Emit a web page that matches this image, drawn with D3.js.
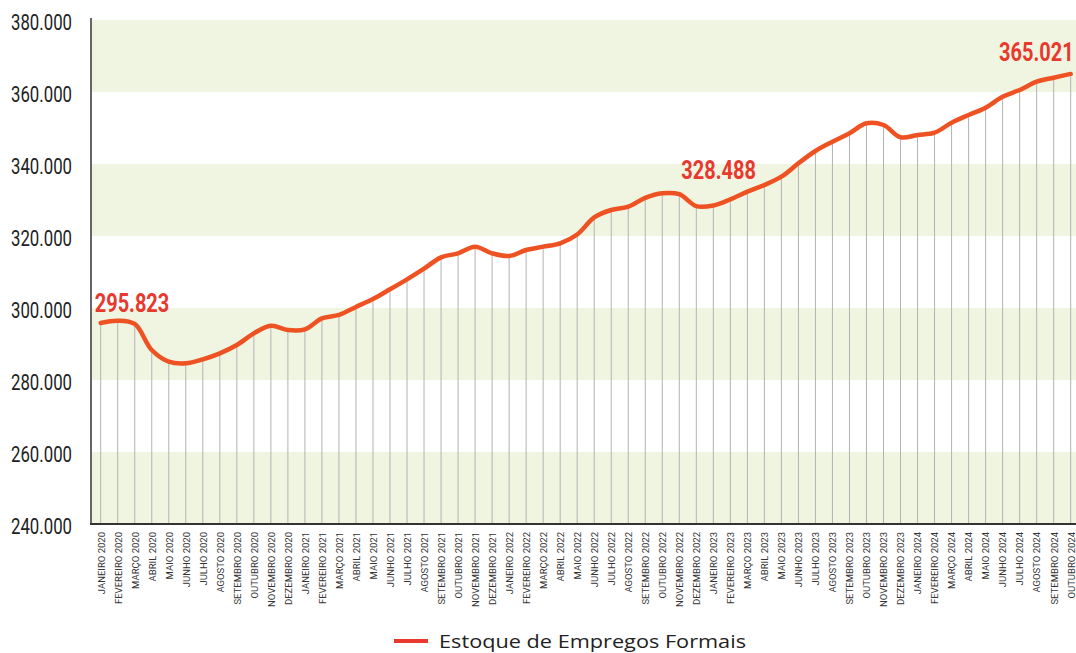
<!DOCTYPE html>
<html><head><meta charset="utf-8">
<script src="https://cdn.jsdelivr.net/npm/d3@7"></script>
<style>html,body{margin:0;padding:0;background:#fff;}svg{display:block;}</style>
</head><body>
<svg id="chart" width="1076" height="653"></svg>
<script>
const months = ["JANEIRO","FEVEREIRO","MARÇO","ABRIL","MAIO","JUNHO","JULHO","AGOSTO","SETEMBRO","OUTUBRO","NOVEMBRO","DEZEMBRO"];
const categories = [];
for (let y = 2020; y <= 2024; y++) for (let m = 0; m < 12; m++) { if (y === 2024 && m > 9) break; categories.push(months[m] + " " + y); }
const values = [
  295823, 296480, 295560, 288330, 285090, 284630, 285740, 287410, 289720, 292960, 295090, 293890,
  294070, 297130, 298060, 300300, 302500, 305190, 307960, 310930, 314070, 315190, 317040, 315190,
  314440, 316110, 317040, 317960, 320400, 325190, 327220, 328140, 330600, 331860, 331600, 328300,
  328488, 330190, 332310, 334170, 336470, 340190, 343610, 346190, 348530, 351310, 350830, 347420,
  348060, 348690, 351470, 353610, 355640, 358690, 360560, 362860, 363970, 365021
];
const yTicks = [240000, 260000, 280000, 300000, 320000, 340000, 360000, 380000];
const bandRanges = [[360000, 380000], [320000, 340000], [280000, 300000], [240000, 260000]];
const highlightIdx = [0, 36, 57];
const seriesName = "Estoque de Empregos Formais";

const svg = d3.select("#chart");
const fmt = v => d3.format(",")(v).replace(/,/g, ".");

const x = d3.scalePoint().domain(categories).range([100.7, 1070.7]);
const y = d3.scaleLinear().domain([240000, 380000]).range([524, 20]);

// bands
svg.append("g").selectAll("rect").data(bandRanges).join("rect")
  .attr("x", 91).attr("width", 1076 - 91)
  .attr("y", d => y(d[1])).attr("height", d => y(d[0]) - y(d[1]))
  .attr("fill", "#f0f5e1");

// drop lines
svg.append("g").selectAll("line").data(values).join("line")
  .attr("x1", (d, i) => x(categories[i])).attr("x2", (d, i) => x(categories[i]))
  .attr("y1", d => y(d)).attr("y2", 524)
  .attr("stroke", "#b3b3b3").attr("stroke-width", 1);

// y axis
const yAxis = d3.axisLeft(y).tickValues(yTicks).tickSize(0).tickPadding(19).tickFormat(fmt);
const gy = svg.append("g").attr("transform", "translate(91,0)").call(yAxis);
gy.select(".domain").attr("stroke", "#666").attr("stroke-width", 2).attr("d", "M0,18V524");
gy.selectAll("text")
  .attr("font-family", "Roboto").attr("font-size", 21.5).attr("fill", "#222")
  .attr("dy", "0.45em")
  .attr("textLength", 61).attr("lengthAdjust", "spacingAndGlyphs");

// x axis
const xAxis = d3.axisBottom(x).tickSize(0).tickPadding(0);
const gx = svg.append("g").attr("transform", "translate(0,524)").call(xAxis);
gx.select(".domain").attr("stroke", "#333").attr("stroke-width", 2).attr("d", "M90,0H1076");
gx.selectAll("text")
  .attr("font-family", "Roboto").attr("font-size", 9.5).attr("fill", "#333")
  .attr("text-anchor", "end")
  .attr("transform", "translate(0,8) rotate(-90)")
  .attr("x", 0).attr("y", 0).attr("dy", "0.35em");

// line
const line = d3.line()
  .x((d, i) => x(categories[i]))
  .y(d => y(d))
  .curve(d3.curveCatmullRom.alpha(0.5));
svg.append("path").datum(values)
  .attr("d", line)
  .attr("fill", "none").attr("stroke", "#ee5122").attr("stroke-width", 4.5)
  .attr("stroke-linecap", "round").attr("stroke-linejoin", "round");

// value labels (condensed by horizontal scaling)
const labelOffsets = {0: [-6, -11, "start"], 36: [-32, -26, "start"], 57: [3, -13, "end"]};
svg.append("g").selectAll("text").data(highlightIdx).join("text")
  .attr("transform", i => `translate(${x(categories[i]) + labelOffsets[i][0]},${y(values[i]) + labelOffsets[i][1]}) scale(0.8,1)`)
  .attr("text-anchor", i => labelOffsets[i][2])
  .attr("font-family", "Roboto").attr("font-weight", "bold").attr("font-size", 25)
  .attr("fill", "#e8392f")
  .text(i => fmt(values[i]));

// legend
const lg = svg.append("g");
lg.append("line").attr("x1", 394).attr("x2", 428).attr("y1", 641).attr("y2", 641)
  .attr("stroke", "#e8392f").attr("stroke-width", 4);
lg.append("text").attr("x", 439).attr("y", 648)
  .attr("font-family", "Open Sans").attr("font-size", 19).attr("fill", "#222")
  .attr("textLength", 307).attr("lengthAdjust", "spacingAndGlyphs")
  .text(seriesName);
</script>
</body></html>
